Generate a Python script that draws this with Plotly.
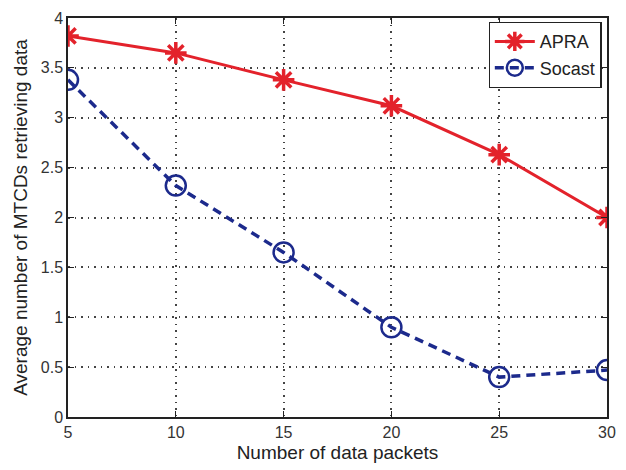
import plotly.graph_objects as go

packets = [5, 10, 15, 20, 25, 30]
apra = [3.82, 3.65, 3.38, 3.12, 2.63, 2.00]
socast = [3.38, 2.32, 1.65, 0.90, 0.40, 0.47]

x_ticks = [5, 10, 15, 20, 25, 30]
y_ticks = [0, 0.5, 1, 1.5, 2, 2.5, 3, 3.5, 4]
y_tick_text = ["0", "0.5", "1", "1.5", "2", "2.5", "3", "3.5", "4"]

red = "#e3222b"
blue = "#1c2a8c"
font_family = "Liberation Sans, Arial, sans-serif"

fig = go.Figure()
fig.add_trace(go.Scatter(
    x=packets, y=apra, name="APRA", mode="lines+markers",
    line=dict(color=red, width=3),
    marker=dict(symbol="asterisk-open", size=18, color=red,
                line=dict(color=red, width=3.5)),
))
fig.add_trace(go.Scatter(
    x=packets, y=socast, name="Socast", mode="lines+markers",
    line=dict(color=blue, width=3.5, dash="9px,6px"),
    marker=dict(symbol="circle-open", size=20, color=blue,
                line=dict(color=blue, width=2.5)),
))

axis_common = dict(
    showline=True, linecolor="#222", linewidth=1.5, mirror="ticks",
    ticks="inside", ticklen=6, tickcolor="#222",
    showgrid=True, gridcolor="#444", griddash="1.5px,5px", gridwidth=1.5,
    zeroline=False,
    tickfont=dict(family=font_family, size=16, color="#333"),
)

fig.update_xaxes(
    range=[5, 30], tickvals=x_ticks,
    title=dict(text="Number of data packets", standoff=6,
               font=dict(family=font_family, size=19, color="#222")),
    **axis_common,
)
fig.update_yaxes(
    range=[0, 4], tickvals=y_ticks, ticktext=y_tick_text,
    title=dict(text="Average number of MTCDs retrieving data", standoff=8,
               font=dict(family=font_family, size=19, color="#222")),
    **axis_common,
)

fig.update_layout(
    width=626, height=470,
    margin=dict(l=68, r=10, t=11, b=51),
    plot_bgcolor="white", paper_bgcolor="white",
    legend=dict(
        x=0.99, y=0.99, xanchor="right", yanchor="top",
        bgcolor="white", bordercolor="#222", borderwidth=1.2,
        font=dict(family=font_family, size=18, color="#222"),
        itemwidth=40, tracegroupgap=0,
    ),
)

fig.write_html("out.html")
